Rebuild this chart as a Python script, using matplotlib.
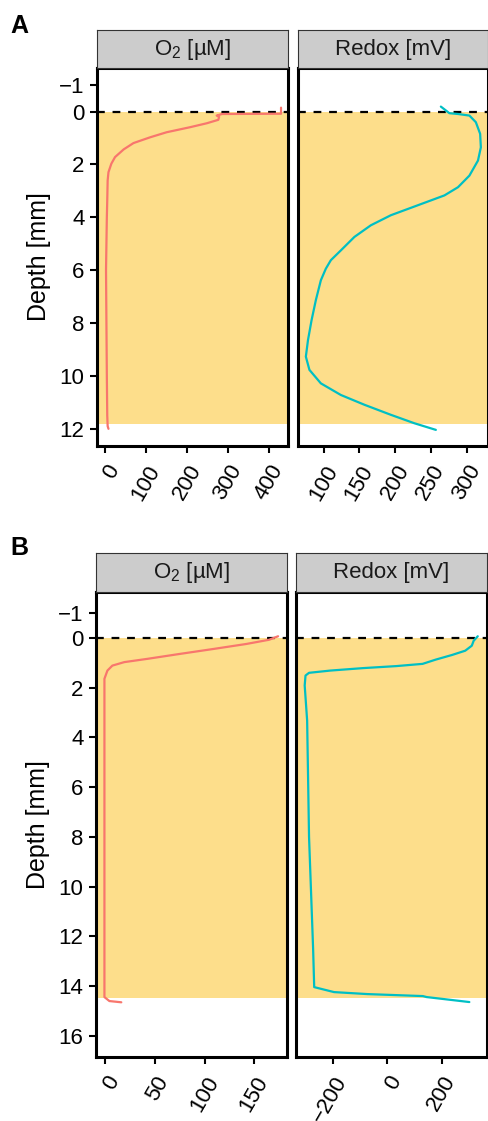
import matplotlib
matplotlib.use("Agg")
import matplotlib.pyplot as plt

plt.rcParams['font.family'] = ['Liberation Sans', 'DejaVu Sans']
plt.rcParams['mathtext.fontset'] = 'custom'
plt.rcParams['mathtext.rm'] = 'Liberation Sans'

# ---- panel A profiles (depth in mm) ----
a_o2_depth = [-0.15, 0.08, 0.09, 0.15, 0.2, 0.31, 0.44, 0.59, 0.78, 0.97,
              1.19, 1.43, 1.72, 1.97, 2.29, 2.6, 3.36, 4.0, 6.0, 8.0, 10.0,
              11.5, 11.9, 12.0]
a_o2_val = [429, 429, 285, 272, 278, 276, 248, 207, 150, 110,
            69, 45, 24, 15, 8, 6, 5, 4, 2, 3, 4,
            5, 6, 8]
a_redox_depth = [-0.19, 0.06, 0.09, 0.15, 0.40, 0.84, 1.35, 1.85, 2.42, 2.86,
                 3.17, 3.36, 3.64, 3.92, 4.30, 4.74, 5.25, 5.62, 5.94, 6.38,
                 7.13, 7.89, 8.64, 9.27, 9.77, 10.28, 10.72, 11.09, 11.47,
                 11.79, 12.04]
a_redox_val = [264, 276, 288, 304, 313, 319, 320, 316, 304, 288,
               269, 250, 222, 194, 166, 143, 124, 110, 103, 96,
               89, 83, 78, 75, 80, 96, 124, 157, 194,
               227, 257]

# ---- panel B profiles ----
b_o2_depth = [-0.07, 0.07, 0.24, 0.44, 0.64, 0.84, 0.97, 1.11, 1.31, 1.64,
              2.04, 4.0, 8.0, 12.0, 14.44, 14.6, 14.65]
b_o2_val = [174, 165, 142, 109, 75, 42, 19, 7, 2, -1,
            -1, -1, -1, -1, -1, 4, 16]
b_redox_depth = [-0.07, 0.11, 0.31, 0.51, 0.68, 0.87, 1.04, 1.13, 1.21, 1.31,
                 1.40, 1.51, 1.91, 3.32, 8.0, 12.5, 14.04, 14.24, 14.32,
                 14.4, 14.44, 14.64]
b_redox_val = [333, 318, 311, 287, 239, 178, 130, 33, -88, -210,
               -288, -301, -304, -295, -288, -273, -269, -196, -73,
               131, 145, 302]

# sediment layer (shaded) and y ranges
a_sed_bottom = 11.8
b_sed_bottom = 14.48
a_ylim = (12.65, -1.65)
b_ylim = (16.85, -1.85)

a_yticks = [-1, 0, 2, 4, 6, 8, 10, 12]
b_yticks = [-1, 0, 2, 4, 6, 8, 10, 12, 14, 16]
a_o2_xticks = [0, 100, 200, 300, 400]
a_redox_xticks = [100, 150, 200, 250, 300]
b_o2_xticks = [0, 50, 100, 150]
b_redox_xticks = [-200, 0, 200]

strip_titles = ['O$_2$ [µM]', 'Redox [mV]']
col_o2 = '#F8766D'
col_redox = '#00BFC4'
sed_color = '#FDDE8B'

W, H = 489, 1121
fig = plt.figure(figsize=(W / 100, H / 100), dpi=100)


def fr(x0, y0, x1, y1):
    # pixel box -> figure rect
    return [x0 / W, 1 - y1 / H, (x1 - x0) / W, (y1 - y0) / H]


def minus(t):
    return str(t).replace('-', '\u2212')


def panel(box, strip_box, depth, val, color, sed_bottom, ylim, yticks,
          xticks, xlim, title, show_y):
    ax = fig.add_axes(fr(*box))
    ax.axhspan(0, sed_bottom, color=sed_color, lw=0, zorder=0)
    ax.axhline(0, color='black', lw=1.6, ls=(0, (3.5, 3.5)), zorder=2)
    ax.plot(val, depth, color=color, lw=1.6, zorder=3,
            solid_joinstyle='round', solid_capstyle='round')
    ax.set_ylim(*ylim)
    ax.set_xlim(*xlim)
    ax.set_xticks(xticks)
    ax.set_xticklabels([minus(t) for t in xticks],
                       rotation=60, ha='right', va='top',
                       rotation_mode='anchor')
    ax.tick_params(axis='both', length=5, width=1.5, labelsize=16,
                   color='black', pad=4)
    ax.tick_params(axis='x', pad=6)
    if show_y:
        ax.set_yticks(yticks)
        ax.set_yticklabels([minus(t) for t in yticks])
    else:
        ax.set_yticks([])
    for s in ax.spines.values():
        s.set_linewidth(2.2)
        s.set_color('black')
    sax = fig.add_axes(fr(*strip_box))
    sax.set_xticks([])
    sax.set_yticks([])
    sax.set_facecolor('#CCCCCC')
    for s in sax.spines.values():
        s.set_linewidth(0.8)
        s.set_color('#333333')
    sax.text(0.5, 0.5, title, ha='center', va='center', fontsize=16,
             color='#1A1A1A', transform=sax.transAxes)
    return ax


# panel A
axA1 = panel((97, 68, 288, 446), (97, 30, 288, 68), a_o2_depth, a_o2_val,
             col_o2, a_sed_bottom, a_ylim, a_yticks, a_o2_xticks,
             (-20, 446), strip_titles[0], True)
panel((298, 68, 488, 446), (298, 30, 488, 68), a_redox_depth, a_redox_val,
      col_redox, a_sed_bottom, a_ylim, a_yticks, a_redox_xticks,
      (64, 330), strip_titles[1], False)
axA1.set_ylabel('Depth [mm]', fontsize=18, labelpad=6)

# panel B
axB1 = panel((96, 592, 287, 1057), (96, 553, 287, 592), b_o2_depth, b_o2_val,
             col_o2, b_sed_bottom, b_ylim, b_yticks, b_o2_xticks,
             (-9.5, 183), strip_titles[0], True)
panel((296, 592, 487, 1057), (296, 553, 487, 592), b_redox_depth, b_redox_val,
      col_redox, b_sed_bottom, b_ylim, b_yticks, b_redox_xticks,
      (-336, 367), strip_titles[1], False)
axB1.set_ylabel('Depth [mm]', fontsize=18, labelpad=6)

fig.text(10 / W, 1 - 26 / H, 'A', fontsize=18, fontweight='bold', va='center')
fig.text(10 / W, 1 - 548 / H, 'B', fontsize=18, fontweight='bold', va='center')

fig.savefig('out.png', dpi=100)
